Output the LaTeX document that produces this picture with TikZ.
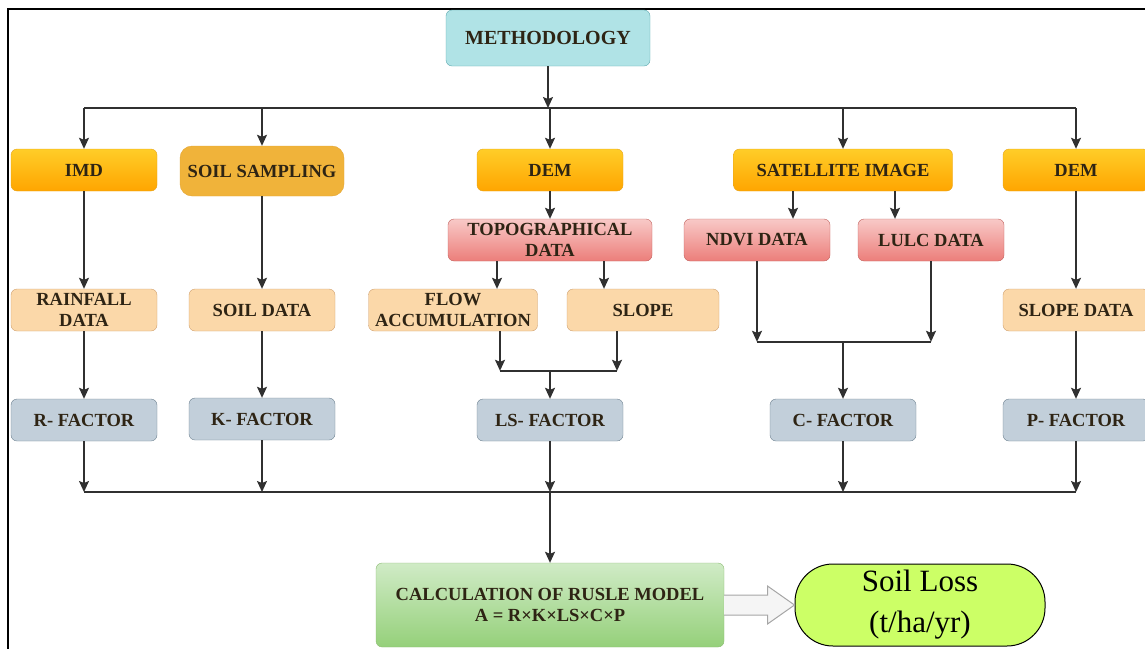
\documentclass[tikz,border=0pt]{standalone}
\usepackage{fontspec}
\setmainfont{Liberation Serif}
\usetikzlibrary{positioning,arrows.meta,calc}

\definecolor{methfill}{HTML}{B0E3E6}
\definecolor{methline}{HTML}{5FA8AE}
\definecolor{orgtop}{HTML}{FFCD28}
\definecolor{orgbot}{HTML}{FFA500}
\definecolor{orgline}{HTML}{E5A420}
\definecolor{soilfill}{HTML}{F0B33A}
\definecolor{soilline}{HTML}{E3A535}
\definecolor{datfill}{HTML}{FBD8A9}
\definecolor{datline}{HTML}{CFA070}
\definecolor{pnktop}{HTML}{F8C9C7}
\definecolor{pnkbot}{HTML}{EC7E7A}
\definecolor{pnkline}{HTML}{C0625E}
\definecolor{facfill}{HTML}{C2CFDA}
\definecolor{facline}{HTML}{6E8290}
\definecolor{grntop}{HTML}{D0EBC6}
\definecolor{grnbot}{HTML}{95D07A}
\definecolor{grnline}{HTML}{8DBB74}
\definecolor{lossfill}{HTML}{CCFF66}
\definecolor{lin}{HTML}{303030}
\definecolor{txt}{HTML}{2E2414}

\begin{document}
\begin{tikzpicture}[x=1pt,y=-1pt,node distance=70pt,on grid,
	box/.style={draw,rounded corners=6pt,minimum width=146pt,minimum height=42pt,inner sep=1pt,align=center,font=\fontsize{18.5}{21}\selectfont\bfseries,text=txt},
	src/.style={box,top color=orgtop,bottom color=orgbot,draw=orgline},
	dat/.style={box,fill=datfill,draw=datline},
	pro/.style={box,top color=pnktop,bottom color=pnkbot,draw=pnkline},
	fac/.style={box,fill=facfill,draw=facline},
	arr/.style={-{Stealth[length=11pt,width=10pt,inset=2pt]},line width=1.4pt,draw=lin},
	lnk/.style={line width=1.4pt,draw=lin}]
	\useasboundingbox (0,0) rectangle (1145,648);
	\clip (0,0) rectangle (1145,648);
	\draw[line width=2pt] (8,9) rectangle (1160,660);

	\node[box,fill=methfill,draw=methline,minimum width=204pt,minimum height=56pt,font=\fontsize{20}{22}\selectfont\bfseries] (meth) at (548,38) {METHODOLOGY};
	\coordinate[below=70pt of meth] (bus1);

	\node[src] (imd) at (84,170) {IMD};
	\node[box,fill=soilfill,draw=soilline,rounded corners=12pt,minimum width=164pt,minimum height=50pt] (soil) at (262,171) {SOIL SAMPLING};
	\node[src] (dem) at (550,170) {DEM};
	\node[src,minimum width=219pt] (sat) at (843,170) {SATELLITE IMAGE};
	\node[src] (demr) at (1076,170) {DEM};

	\node[pro,minimum width=204pt,below=70pt of dem] (topo) {TOPOGRAPHICAL\\DATA};
	\node[pro,below left=70pt and 86pt of sat] (ndvi) {NDVI DATA};
	\node[pro,below right=70pt and 88pt of sat] (lulc) {LULC DATA};

	\node[dat,below=140pt of imd] (rain) {RAINFALL\\DATA};
	\node[dat,below=139pt of soil] (sdata) {SOIL DATA};
	\node[dat,minimum width=169pt,below left=70pt and 97pt of topo] (flow) {FLOW\\ACCUMULATION};
	\node[dat,minimum width=152pt,below right=70pt and 93pt of topo] (slope) {SLOPE};
	\node[dat,below=140pt of demr] (sloped) {SLOPE DATA};

	\node[fac,below=110pt of rain] (rf) {R- FACTOR};
	\node[fac,below=109pt of sdata] (kf) {K- FACTOR};
	\node[fac,below=250pt of dem] (lsf) {LS- FACTOR};
	\node[fac,below=250pt of sat] (cf) {C- FACTOR};
	\node[fac,below=110pt of sloped] (pf) {P- FACTOR};

	\coordinate[above=28pt of lsf.north] (lsj);
	\coordinate[above=57pt of cf.north] (cj);
	\coordinate[below=72pt of lsf] (bus2);

	\node[box,top color=grntop,bottom color=grnbot,draw=grnline,minimum width=348pt,minimum height=84pt,below=185pt of lsf] (calc) {CALCULATION OF RUSLE MODEL\\A = R×K×LS×C×P};
	\node[draw=black,line width=1pt,fill=lossfill,rounded corners=38pt,minimum width=250pt,minimum height=82pt,align=center,font=\fontsize{31}{41}\selectfont,right=370pt of calc] (loss) {Soil Loss\\(t/ha/yr)};

	% top bus
	\draw[arr] (meth) -- (bus1);
	\draw[lnk] (imd |- bus1) -- (demr |- bus1);
	\foreach \n in {imd,soil,dem,sat,demr}
		\draw[arr] (\n |- bus1) -- (\n);

	\draw[arr] (imd) -- (rain);
	\draw[arr] (rain) -- (rf);
	\draw[arr] (soil) -- (sdata);
	\draw[arr] (sdata) -- (kf);
	\draw[arr] (demr) -- (sloped);
	\draw[arr] (sloped) -- (pf);

	\draw[arr] (dem) -- (topo);
	\draw[arr] ([xshift=-53pt]topo.south) -- ([xshift=-53pt]topo.south |- flow.north);
	\draw[arr] ([xshift=54pt]topo.south) -- ([xshift=54pt]topo.south |- slope.north);
	\draw[arr] ([xshift=47pt]flow.south) -- ([xshift=47pt]flow.south |- lsj);
	\draw[arr] ([xshift=-26pt]slope.south) -- ([xshift=-26pt]slope.south |- lsj);
	\draw[lnk] ([xshift=47pt]flow.south |- lsj) -- ([xshift=-26pt]slope.south |- lsj);
	\draw[arr] (lsj) -- (lsf);

	\draw[arr] ([xshift=36pt]ndvi.north |- sat.south) -- ([xshift=36pt]ndvi.north);
	\draw[arr] ([xshift=-36pt]lulc.north |- sat.south) -- ([xshift=-36pt]lulc.north);
	\draw[arr] (ndvi) -- (ndvi |- cj);
	\draw[arr] (lulc) -- (lulc |- cj);
	\draw[lnk] (ndvi |- cj) -- (lulc |- cj);
	\draw[arr] (cj) -- (cf);

	% bottom bus
	\foreach \n in {rf,kf,lsf,cf,pf}
		\draw[arr] (\n) -- (\n |- bus2);
	\draw[lnk] (rf |- bus2) -- (pf |- bus2);
	\draw[arr] (bus2) -- (calc);

	\draw[draw=gray!70,fill=gray!8,line width=1pt] ($(calc.east)+(0,-10)$) -- ($(loss.west)+(-27,-10)$) -- ($(loss.west)+(-27,-19)$) -- (loss.west) -- ($(loss.west)+(-27,19)$) -- ($(loss.west)+(-27,10)$) -- ($(calc.east)+(0,10)$);
\end{tikzpicture}
\end{document}
